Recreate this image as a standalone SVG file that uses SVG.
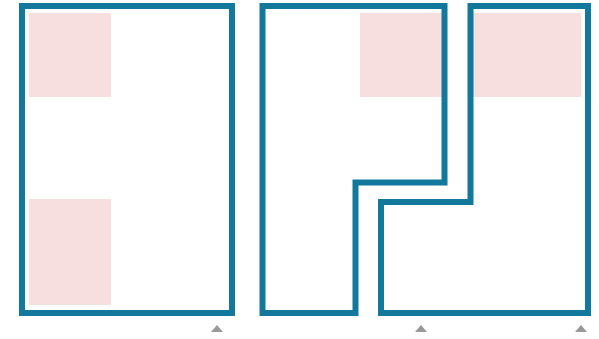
<svg xmlns="http://www.w3.org/2000/svg" width="599" height="339" viewBox="0 0 599 339">
<style>
.frame{fill:none;stroke:#13799c;stroke-width:6;stroke-linejoin:miter}
.pink{fill:#f7dfe0}
.tri{fill:#999999}
</style>
<rect width="599" height="339" fill="#ffffff"/>
<g id="panel1">
<rect class="pink" x="29" y="13" width="82" height="84"/>
<rect class="pink" x="29" y="199" width="82" height="106"/>
<rect class="frame" x="22" y="6" width="210" height="307"/>
<polygon class="tri" points="211,332 217,325 223,332"/>
</g>
<g id="panel2">
<rect class="pink" x="360" y="13" width="82" height="84"/>
<path class="frame" d="M262.5,6 H444.5 V182.5 H355.5 V313 H262.5 Z"/>
<polygon class="tri" points="415,332 421,325 427,332"/>
</g>
<g id="panel3">
<rect class="pink" x="473" y="13" width="108" height="84"/>
<path class="frame" d="M470.5,6 H588 V313 H381 V202 H470.5 Z"/>
<polygon class="tri" points="575,332 581,325 587,332"/>
</g>
<g id="connectors"></g>
</svg>
